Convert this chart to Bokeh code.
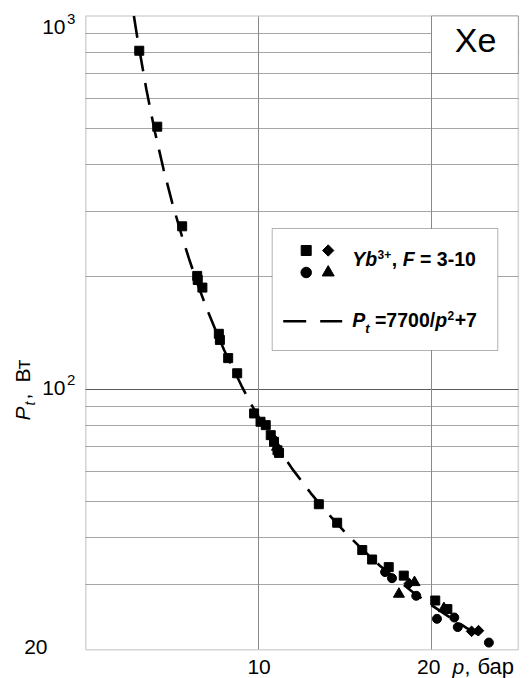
import math
from bokeh.plotting import figure
from bokeh.models import Range1d, FixedTicker, Grid, Label, BoxAnnotation, LogScale
from bokeh.embed import file_html
from bokeh.resources import INLINE

# ---------------- data ----------------
# dashed fit curve (P_t = 7700/p^2 + 7)
curve_p = [2.78, 3.0, 3.5, 4.0, 4.5, 5.0, 5.5, 6.0, 6.5, 7.0, 7.5, 8.0, 8.5, 9.0, 9.5, 10.0,
           11.0, 12.0, 13.0, 14.0, 15.0, 16.0, 17.0, 18.0, 19.0, 20.0, 21.0, 22.0, 22.8]
curve_P = [1000, 862, 636, 488, 387, 315, 262, 221, 189, 164, 144, 127, 114, 102, 92, 84,
           70.6, 60.5, 52.6, 46.3, 41.2, 37.1, 33.6, 30.8, 28.3, 26.3, 24.5, 22.9, 21.8]

square_p = [3.09, 4.13, 5.57, 6.44, 6.47, 6.74, 7.69, 7.75, 8.23, 8.75, 9.73, 10.1, 10.4,
            10.69, 10.88, 11.08, 11.17, 13.47, 14.53, 15.98, 16.55, 17.51, 18.38, 20.2, 20.9]
square_P = [807, 505, 273, 201, 196, 187, 140.6, 135.4, 121, 110.2, 86.0, 81.7, 80.0,
            75.2, 72.2, 68.5, 67.4, 49.1, 43.8, 37.0, 34.9, 33.3, 31.6, 27.1, 25.7]

circle_p = [17.3, 17.7, 19.1, 20.3, 21.3, 21.5, 23.3]
circle_P = [32.3, 31.1, 27.9, 24.2, 24.4, 23.0, 20.9]

diamond_p = [10.8, 18.7, 22.3, 22.7]
diamond_P = [73.8, 30.1, 22.4, 22.5]

triangle_p = [11.05, 18.1, 19.0, 20.7]
triangle_P = [69.9, 28.2, 30.3, 25.8]

x_min, x_max = 0, 25
y_min, y_max = 20, 1000
x_ticks = [10, 20]
x_tick_labels = ["10", "20"]
y_ticks = [1000, 100, 20]
y_tick_base = ["10", "10", "20"]
y_tick_exp = ["3", "2", ""]
y_grid_minor = [30, 40, 50, 60, 70, 80, 90, 200, 300, 400, 500, 600, 700, 800, 900]
y_grid_major = [100]

# ---------------- layout helpers (picture pixel -> data) ----------------
FONT = "Liberation Sans"
W, H = 531, 678
X0_PX, X_PX_PER_UNIT = 85.3, 17.3
Y100_PX, Y_PX_PER_DEC = 388.5, 373.0
K = 0.42   # measured baseline drift of rendered text, in em


def dx(px):
    return (px - X0_PX) / X_PX_PER_UNIT


def dy(py):
    return 10 ** (2 - (py - Y100_PX) / Y_PX_PER_DEC)


W_REG = {' ': 0.278, ',': 0.278, 'P': 0.667, 't': 0.278, 'p': 0.556, 'В': 0.667,
         'т': 0.469, 'б': 0.573, 'а': 0.556, 'р': 0.556, 'X': 0.667, 'e': 0.556}
W_BOLD = {' ': 0.278, ',': 0.278, '-': 0.333, '/': 0.278, '=': 0.584, '+': 0.584,
          'F': 0.611, 'P': 0.667, 'Y': 0.667, 'b': 0.611, 'p': 0.611, 't': 0.333}


def tw(s, size, bold=False):
    table = W_BOLD if bold else W_REG
    return sum(table.get(c, 0.556) for c in s) * size


p = figure(width=W, height=H, x_range=Range1d(dx(0), dx(W)), y_range=Range1d(dy(H), dy(0)),
           x_axis_type=None, y_axis_type=None,
           output_backend="svg", toolbar_location=None, min_border=0)
p.y_scale = LogScale()
p.outline_line_color = None
p.background_fill_color = "white"
p.border_fill_color = "white"


def make_grid(dim, ticks, color, cross):
    kw = dict(dimension=dim, ticker=FixedTicker(ticks=ticks), grid_line_color=color,
              grid_line_width=1, level="image")
    try:
        g = Grid(cross_bounds=cross, **kw)
        p.add_layout(g)
    except Exception:
        vals = list(ticks)
        if dim == 1:
            p.segment([cross[0]] * len(vals), vals, [cross[1]] * len(vals), vals,
                      line_color=color, line_width=1, level="image")
        else:
            p.segment(vals, [cross[0]] * len(vals), vals, [cross[1]] * len(vals),
                      line_color=color, line_width=1, level="image")


make_grid(1, y_grid_minor, "#a6a6a6", (x_min, x_max))
make_grid(1, y_grid_major, "#5a5a5a", (x_min, x_max))
make_grid(0, x_ticks, "#8a8a8a", (y_min, y_max))

# plot frame
p.add_layout(BoxAnnotation(left=x_min, right=x_max, bottom=y_min, top=y_max,
                           fill_color=None, line_color="#777777", line_width=1.6,
                           level="underlay"))


def lab(text, px, py, size, style="normal", align="left", angle=0.0):
    if angle == 0:
        py = py - K * size
    else:
        px = px - K * size
    p.add_layout(Label(x=dx(px), y=dy(py), text=text, text_font=FONT,
                       text_font_size=f"{size}px", text_font_style=style,
                       text_align=align, text_baseline="alphabetic", angle=angle,
                       text_color="black"))


# curve and data
p.line(curve_p, curve_P, line_color="black", line_width=2.6, line_dash="22 12")
p.scatter(square_p, square_P, marker="square", size=9, color="black")
p.scatter(circle_p, circle_P, marker="circle", size=9, color="black")
p.scatter(diamond_p, diamond_P, marker="square", angle=math.pi / 4, size=7.5, color="black")
p.scatter(triangle_p, triangle_P, marker="triangle", size=11, color="black")

# x tick labels (centred under their grid lines)
x_label_shift = {10: 0.3, 20: -3.0}
for v, t in zip(x_ticks, x_tick_labels):
    lab(t, X0_PX + v * X_PX_PER_UNIT + x_label_shift[v], 675, 21, align="center")
# x axis title "p, бар"
lab("p", 452, 675, 21, style="italic")
lab(",", 464, 675, 21)
lab("бар", 477, 675, 22)

# y tick labels
y_label_base = {1000: 35, 100: 396, 20: 655}
for v, base, ex in zip(y_ticks, y_tick_base, y_tick_exp):
    by = y_label_base[v]
    if ex:
        lab(base, 65, by, 21, align="right")
        lab(ex, 66.5, by - 10, 15)
    else:
        lab(base, 47, by, 21, align="right")

# y axis title, rotated: P_t, Вт
ang = math.pi / 2
bx = 31
lab("P", bx, 420, 21, style="italic", angle=ang)
lab("t", bx + 4, 405, 14, style="italic", angle=ang)
lab(",", bx, 399, 21, angle=ang)
lab("Вт", bx, 382, 21, angle=ang)

# Xe box
p.add_layout(BoxAnnotation(left=dx(431), right=x_max, top=y_max, bottom=dy(73),
                           fill_color="white", fill_alpha=1, line_color="black",
                           line_width=1, level="underlay"))
lab("Xe", 475, 54, 34, align="center")

# legend
p.add_layout(BoxAnnotation(left=dx(271.7), right=dx(497.3), top=dy(228), bottom=dy(350),
                           fill_color="white", fill_alpha=1, line_color="black",
                           line_width=1, level="underlay"))
p.scatter([dx(305.7)], [dy(250)], marker="square", size=10, color="black")
p.scatter([dx(327.7)], [dy(250)], marker="square", angle=math.pi / 4, size=8, color="black")
p.scatter([dx(305.7)], [dy(272)], marker="circle", size=10.5, color="black")
p.scatter([dx(327.7)], [dy(272)], marker="triangle", size=12, color="black")
p.line([dx(282.7), dx(341.7)], [dy(320.7), dy(320.7)], line_color="black",
       line_width=2.6, line_dash="23 14")

fs = 19.5
sp = tw(" ", fs, True)
x = 351.7
b1 = 267
lab("Yb", x, b1, fs, style="bold italic"); x += tw("Yb", fs, True)
lab("3+", x + 0.5, b1 - 8, 12, style="bold"); x += tw("3+", 12, True) + 1
lab(",", x, b1, fs, style="bold"); x += tw(",", fs, True) + sp
lab("F", x, b1, fs, style="bold italic"); x += tw("F", fs, True) + sp
lab("=", x, b1, fs, style="bold"); x += tw("=", fs, True) + sp
lab("3-10", x, b1, fs, style="bold")

x = 351.7
b2 = 328
lab("P", x, b2, fs, style="bold italic"); x += tw("P", fs, True)
lab("t", x, b2 + 5, 13, style="bold italic"); x += tw("t", 13, True) + sp
lab("=7700/", x, b2, fs, style="bold"); x += tw("=7700/", fs, True)
lab("p", x, b2, fs, style="bold italic"); x += tw("p", fs, True)
lab("2", x + 0.5, b2 - 8, 12, style="bold"); x += tw("2", 12, True) + 1
lab("+7", x, b2, fs, style="bold")

open("out.html", "w").write(file_html(p, INLINE))
